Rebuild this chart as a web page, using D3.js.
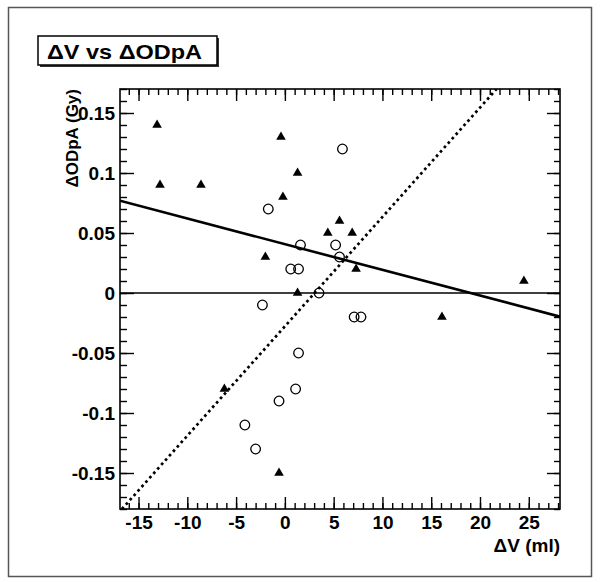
<!DOCTYPE html>
<html>
<head>
<meta charset="utf-8">
<script src="https://cdn.jsdelivr.net/npm/d3@7"></script>
<style>
  body { margin: 0; background: #fff; }
  text { font-family: "Liberation Sans", Arial, sans-serif; font-weight: bold; fill: #000; }
</style>
</head>
<body>
<div id="graphic"></div>
<script>
// filled triangles: [dV, dODpA]
var triangles = [
	[-13.1, 0.14], [-12.8, 0.09], [-8.6, 0.09], [-0.4, 0.13], [1.3, 0.10],
	[-0.2, 0.08], [-2.0, 0.03], [1.3, 0.0], [4.4, 0.05], [5.6, 0.06],
	[6.9, 0.05], [7.3, 0.02], [16.1, -0.02], [24.5, 0.01], [-0.6, -0.15],
	[-6.2, -0.08]
];
// open circles: [dV, dODpA]
var circles = [
	[5.9, 0.12], [-1.7, 0.07], [1.6, 0.04], [5.2, 0.04], [5.6, 0.03],
	[0.6, 0.02], [1.4, 0.02], [3.5, 0.0], [-2.3, -0.01], [7.1, -0.02],
	[7.8, -0.02], [1.4, -0.05], [1.1, -0.08], [-0.6, -0.09], [-4.1, -0.11],
	[-3.0, -0.13]
];
// fitted lines, end points in data units
var fitSolid = [[-16.9, 0.0769], [28.2, -0.0197]];
var fitDotted = [[-16.7, -0.18], [21.7, 0.17]];

var xDomain = [-16.9, 28.2];
var yDomain = [-0.18, 0.17];
var xMajor = [-15, -10, -5, 0, 5, 10, 15, 20, 25];
var yMajor = [-0.15, -0.1, -0.05, 0, 0.05, 0.1, 0.15];

var title = '\u0394V vs \u0394ODpA';
var xLabel = '\u0394V (ml)';
var yLabel = '\u0394ODpA (Gy)';

var width = 600, height = 582;
var margin = { top: 89, right: 40, bottom: 73, left: 120 };
var w = width - margin.left - margin.right;
var h = height - margin.top - margin.bottom;

var svg = d3.select('#graphic')
	.append('svg')
	.attr('width', width)
	.attr('height', height);

// outer frame
svg.append('rect')
	.attr('x', 8.5).attr('y', 7.5)
	.attr('width', 583).attr('height', 569)
	.attr('fill', 'none')
	.attr('stroke', '#555')
	.attr('stroke-width', 1.5);

// title box with shadow
svg.append('rect')
	.attr('x', 40).attr('y', 38)
	.attr('width', 179).attr('height', 29)
	.attr('fill', '#333');
svg.append('rect')
	.attr('x', 38).attr('y', 36)
	.attr('width', 179).attr('height', 29)
	.attr('fill', '#fff')
	.attr('stroke', '#000')
	.attr('stroke-width', 1.5);
svg.append('text')
	.attr('x', 47).attr('y', 59)
	.attr('textLength', 155)
	.attr('lengthAdjust', 'spacingAndGlyphs')
	.style('font-size', '21px')
	.text(title);

var g = svg.append('g')
	.attr('transform', 'translate(' + margin.left + ',' + margin.top + ')');

var x = d3.scaleLinear().domain(xDomain).range([0, w]);
var y = d3.scaleLinear().domain(yDomain).range([h, 0]);

g.append('clipPath').attr('id', 'clip')
	.append('rect').attr('width', w).attr('height', h);

// minor ticks
var xMinor = d3.range(-16, 29, 1);
var yMinor = d3.range(-18, 18, 1).map(function (d) { return d / 100; });

function tickAxis(axis, vals, size, transform, labels) {
	var a = axis.tickValues(vals).tickSize(size).tickSizeOuter(0);
	if (!labels) a.tickFormat('');
	var s = g.append('g').attr('transform', transform).call(a);
	s.select('.domain').remove();
	s.selectAll('line').attr('stroke', '#000').attr('stroke-width', 1.4);
	return s;
}

tickAxis(d3.axisBottom(x), xMinor, -6, 'translate(0,' + h + ')');
tickAxis(d3.axisTop(x), xMinor, -6, 'translate(0,0)');
tickAxis(d3.axisLeft(y), yMinor, -7, 'translate(0,0)');
tickAxis(d3.axisRight(y), yMinor, -6, 'translate(' + w + ',0)');

// plain hyphen minus, as in the original
var xa = tickAxis(d3.axisBottom(x).tickPadding(7).tickFormat(function (d) { return String(d); }),
	xMajor, -12, 'translate(0,' + h + ')', true);
xa.selectAll('text').style('font-size', '19px').attr('font-family', null).attr('fill', '#000');
tickAxis(d3.axisTop(x), xMajor, -12, 'translate(0,0)');

var ya = tickAxis(d3.axisLeft(y).tickPadding(5).tickFormat(function (d) {
	return d === 0 ? '0' : String(+d.toFixed(2));
}), yMajor, -14, 'translate(0,0)', true);
ya.selectAll('text').style('font-size', '19px').attr('font-family', null).attr('fill', '#000');
tickAxis(d3.axisRight(y), yMajor, -13, 'translate(' + w + ',0)');

// zero line
g.append('line')
	.attr('x1', 0).attr('x2', w)
	.attr('y1', y(0)).attr('y2', y(0))
	.attr('stroke', '#000')
	.attr('stroke-width', 1.3);

var line = d3.line().x(function (d) { return x(d[0]); }).y(function (d) { return y(d[1]); });

g.append('path')
	.attr('clip-path', 'url(#clip)')
	.attr('d', line(fitSolid))
	.attr('fill', 'none')
	.attr('stroke', '#000')
	.attr('stroke-width', 2.6);

g.append('path')
	.attr('clip-path', 'url(#clip)')
	.attr('d', line(fitDotted))
	.attr('fill', 'none')
	.attr('stroke', '#000')
	.attr('stroke-width', 2.7)
	.attr('stroke-dasharray', '2.7,3.2');

// markers
g.selectAll('path.tri')
	.data(triangles)
	.join('path')
	.attr('class', 'tri')
	.attr('transform', function (d) { return 'translate(' + x(d[0]) + ',' + y(d[1]) + ')'; })
	.attr('d', d3.symbol(d3.symbolTriangle, 40))
	.attr('fill', '#000');

g.selectAll('circle.open')
	.data(circles)
	.join('circle')
	.attr('class', 'open')
	.attr('cx', function (d) { return x(d[0]); })
	.attr('cy', function (d) { return y(d[1]); })
	.attr('r', 4.8)
	.attr('fill', 'none')
	.attr('stroke', '#000')
	.attr('stroke-width', 1.3);

// plot frame
g.append('rect')
	.attr('width', w).attr('height', h)
	.attr('fill', 'none')
	.attr('stroke', '#000')
	.attr('stroke-width', 1.6);

// axis titles
g.append('text')
	.attr('x', w).attr('y', h + 43)
	.attr('text-anchor', 'end')
	.style('font-size', '19px')
	.text(xLabel);

g.append('text')
	.attr('transform', 'translate(-42,0) rotate(-90)')
	.attr('text-anchor', 'end')
	.style('font-size', '17px')
	.text(yLabel);
</script>
</body>
</html>
